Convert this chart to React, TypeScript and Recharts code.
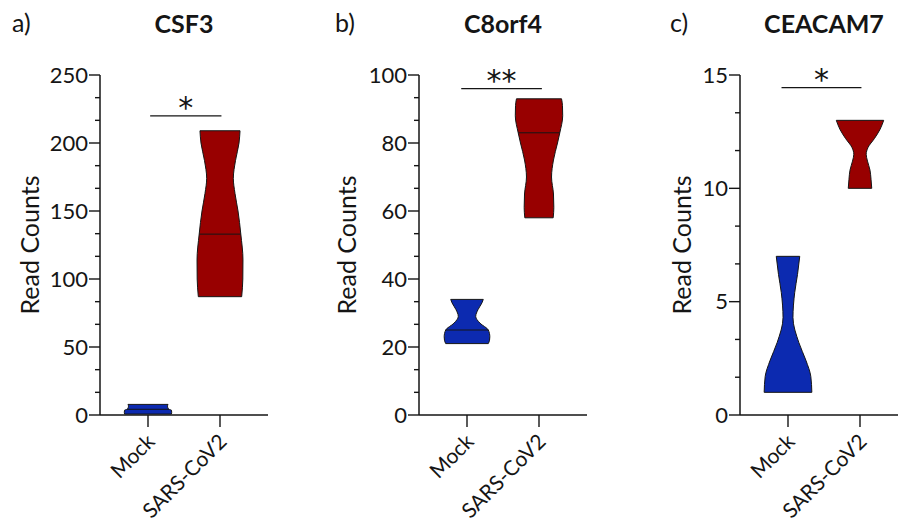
import React from 'react';
import { ComposedChart, Area, Line, XAxis, YAxis, ReferenceDot } from 'recharts';

const FONT = 'Lato, "Open Sans", sans-serif';
const INK = '#151515';

// ---------- data ----------
const categories = ['Mock', 'SARS-CoV2'];
const genes = ['CSF3', 'C8orf4', 'CEACAM7'];
const panelLetters = ['a)', 'b)', 'c)'];

const csf3Ticks = [0, 50, 100, 150, 200, 250];
const c8orf4Ticks = [0, 20, 40, 60, 80, 100];
const ceacam7Ticks = [0, 5, 10, 15];

// violin outlines: read-count levels and half-widths (category units)
const csf3MockLevels = [0.7, 2, 3.5, 4.2, 5, 6.5, 7.8];
const csf3MockWidths = [0.326, 0.329, 0.326, 0.292, 0.278, 0.271, 0.278];
const csf3MockMedian = 4.2;
const csf3CovLevels = [87, 100, 114, 133, 150, 163, 174, 187, 200, 209];
const csf3CovWidths = [0.301, 0.317, 0.319, 0.289, 0.25, 0.208, 0.185, 0.215, 0.264, 0.278];
const csf3CovMedian = 133;

const c8orf4MockLevels = [21, 22, 23, 25, 27, 29, 31, 33, 34];
const c8orf4MockWidths = [0.296, 0.313, 0.317, 0.296, 0.181, 0.121, 0.153, 0.208, 0.226];
const c8orf4MockMedian = 25;
const c8orf4CovLevels = [58, 61, 65, 70, 75, 80, 83, 88, 91, 93];
const c8orf4CovWidths = [0.197, 0.206, 0.201, 0.174, 0.201, 0.257, 0.289, 0.329, 0.326, 0.313];
const c8orf4CovMedian = 83;

const ceacam7MockLevels = [1, 1.7, 2.4, 3.2, 4.3, 5.4, 6.2, 7];
const ceacam7MockWidths = [0.331, 0.317, 0.25, 0.15, 0.069, 0.093, 0.132, 0.163];
const ceacam7MockMedian: number | null = null;
const ceacam7CovLevels = [10, 10.4, 10.8, 11.2, 11.5, 11.8, 12.2, 12.6, 13];
const ceacam7CovWidths = [0.163, 0.153, 0.139, 0.104, 0.086, 0.111, 0.201, 0.278, 0.329];
const ceacam7CovMedian: number | null = null;

// significance brackets
const sigLevels = [220, 96, 14.44];
const sigFrom = [0.03, -0.08, -0.09];
const sigTo = [1.02, 1.04, 1.02];
const sigMarks = ['*', '**', '*'];

// ---------- layout ----------
const W = 898;
const H = 525;
const PLOT_TOP = 75;
const PLOT_H = 340;
const PLOT_W = 168;
const YAXIS_W = 90;
const XAXIS_H = 100;
const plotLefts = [100, 419, 740];
const yLabelOffsets = [71, 73, 59];
const letterOffsets = [88, 84, 70];
const X_DOMAIN: [number, number] = [-2 / 3, 5 / 3];
const MINOR_DIVS = 3;
const MOCK_COLOR = '#0c2ab0';
const COV_COLOR = '#980000';

type Violin = { levels: number[]; widths: number[]; median: number | null; center: number; color: string };

const panels = [
  {
    ticks: csf3Ticks,
    violins: [
      { levels: csf3MockLevels, widths: csf3MockWidths, median: csf3MockMedian, center: 0, color: MOCK_COLOR },
      { levels: csf3CovLevels, widths: csf3CovWidths, median: csf3CovMedian, center: 1, color: COV_COLOR },
    ] as Violin[],
  },
  {
    ticks: c8orf4Ticks,
    violins: [
      { levels: c8orf4MockLevels, widths: c8orf4MockWidths, median: c8orf4MockMedian, center: 0, color: MOCK_COLOR },
      { levels: c8orf4CovLevels, widths: c8orf4CovWidths, median: c8orf4CovMedian, center: 1, color: COV_COLOR },
    ] as Violin[],
  },
  {
    ticks: ceacam7Ticks,
    violins: [
      { levels: ceacam7MockLevels, widths: ceacam7MockWidths, median: ceacam7MockMedian, center: 0, color: MOCK_COLOR },
      { levels: ceacam7CovLevels, widths: ceacam7CovWidths, median: ceacam7CovMedian, center: 1, color: COV_COLOR },
    ] as Violin[],
  },
];

function areaData(vl: Violin) {
  return vl.levels.map((v, i) => ({ v, span: [vl.center - vl.widths[i], vl.center + vl.widths[i]] }));
}

// horizontal segments: bottom cap, top cap, and median line
function outlineSegments(vl: Violin) {
  const n = vl.levels.length - 1;
  const idxs = [0, n];
  if (vl.median != null) {
    const m = vl.levels.indexOf(vl.median);
    if (m >= 0) idxs.push(m);
  }
  return idxs.map((i) => [
    { v: vl.levels[i], x: vl.center - vl.widths[i] },
    { v: vl.levels[i], x: vl.center + vl.widths[i] },
  ]);
}

function allTicks(majors: number[]) {
  const out: number[] = [];
  majors.forEach((m, i) => {
    out.push(m);
    if (i < majors.length - 1) {
      const step = (majors[i + 1] - m) / MINOR_DIVS;
      for (let k = 1; k < MINOR_DIVS; k++) out.push(m + step * k);
    }
  });
  return out;
}

const makeYTick = (majors: number[]) => (props: any) => {
  const { x, y, payload } = props;
  const major = majors.includes(payload.value);
  return (
    <g>
      <line x1={x - (major ? 11 : 5)} y1={y} x2={x} y2={y} stroke={INK} strokeWidth={1.4} />
      {major && (
        <text x={x - 12} y={y} dy="0.35em" textAnchor="end" fontSize={22} fontFamily={FONT} fill={INK}>
          {payload.value}
        </text>
      )}
    </g>
  );
};

const XTick = (props: any) => {
  const { x, y, payload } = props;
  const tx = x + 8;
  const ty = y + 28;
  return (
    <g>
      <line x1={x} y1={y} x2={x} y2={y + 12} stroke={INK} strokeWidth={1.4} />
      <text x={tx} y={ty} transform={`rotate(-45 ${tx} ${ty})`} textAnchor="end" fontSize={21} fontFamily={FONT} fill={INK}>
        {categories[payload.value]}
      </text>
    </g>
  );
};

function Panel({ idx }: { idx: number }) {
  const p = panels[idx];
  const majors = p.ticks;
  const yMax = majors[majors.length - 1];
  const sig = [
    { v: sigLevels[idx], x: sigFrom[idx] },
    { v: sigLevels[idx], x: sigTo[idx] },
  ];
  const chartLeft = plotLefts[idx] - YAXIS_W;
  return (
    <div style={{ position: 'absolute', left: chartLeft, top: 0 }}>
      <ComposedChart
        layout="vertical"
        width={YAXIS_W + PLOT_W + 10}
        height={H}
        margin={{ top: PLOT_TOP, right: 10, bottom: H - PLOT_TOP - PLOT_H - XAXIS_H, left: 0 }}
      >
        <XAxis
          type="number"
          domain={X_DOMAIN}
          ticks={[0, 1]}
          allowDataOverflow
          height={XAXIS_H}
          tickSize={0}
          tickMargin={0}
          tickLine={false}
          interval={0}
          axisLine={{ stroke: INK, strokeWidth: 1.5 }}
          tick={<XTick />}
        />
        <YAxis
          type="number"
          dataKey="v"
          domain={[0, yMax]}
          reversed
          allowDataOverflow
          ticks={allTicks(majors)}
          interval={0}
          width={YAXIS_W}
          tickSize={0}
          tickMargin={0}
          tickLine={false}
          axisLine={{ stroke: INK, strokeWidth: 1.5 }}
          tick={makeYTick(majors)}
        />
        {p.violins.map((vl, i) => (
          <Area
            key={`a${i}`}
            data={areaData(vl)}
            dataKey="span"
            type="monotone"
            fill={vl.color}
            fillOpacity={1}
            stroke={INK}
            strokeWidth={1}
            dot={false}
            activeDot={false}
            isAnimationActive={false}
          />
        ))}
        {p.violins.flatMap((vl, i) =>
          outlineSegments(vl).map((seg, j) => (
            <Line
              key={`o${i}-${j}`}
              data={seg}
              dataKey="x"
              type="linear"
              stroke={INK}
              strokeWidth={1}
              dot={false}
              activeDot={false}
              isAnimationActive={false}
            />
          ))
        )}
        <Line
          data={sig}
          dataKey="x"
          type="linear"
          stroke={INK}
          strokeWidth={1.2}
          dot={false}
          activeDot={false}
          isAnimationActive={false}
        />
        <ReferenceDot
          x={(sigFrom[idx] + sigTo[idx]) / 2}
          y={sigLevels[idx]}
          r={0}
          fill="none"
          stroke="none"
          label={{
            value: sigMarks[idx],
            position: 'top',
            offset: -2,
            fontSize: 30,
            fill: INK,
            fontFamily: '"DejaVu Sans", sans-serif',
          }}
        />
      </ComposedChart>
    </div>
  );
}

export default function App() {
  return (
    <div
      style={{
        position: 'absolute',
        left: 0,
        top: 0,
        width: W,
        height: H,
        overflow: 'hidden',
        background: '#fff',
        fontFamily: FONT,
      }}
    >
      {panels.map((_, i) => (
        <Panel key={i} idx={i} />
      ))}
      <svg width={W} height={H} style={{ position: 'absolute', left: 0, top: 0, pointerEvents: 'none' }}>
        {plotLefts.map((pl, i) => (
          <g key={i}>
            <text x={pl - letterOffsets[i]} y={32} fontSize={25} fontFamily={FONT} fill={INK}>
              {panelLetters[i]}
            </text>
            <text x={pl + PLOT_W / 2} y={33} fontSize={25} fontWeight="bold" textAnchor="middle" fontFamily={FONT} fill={INK}>
              {genes[i]}
            </text>
            <text
              x={pl - yLabelOffsets[i]}
              y={245}
              transform={`rotate(-90 ${pl - yLabelOffsets[i]} 245)`}
              fontSize={25}
              textAnchor="middle"
              dominantBaseline="central"
              fontFamily={FONT}
              fill={INK}
            >
              Read Counts
            </text>
          </g>
        ))}
      </svg>
    </div>
  );
}
